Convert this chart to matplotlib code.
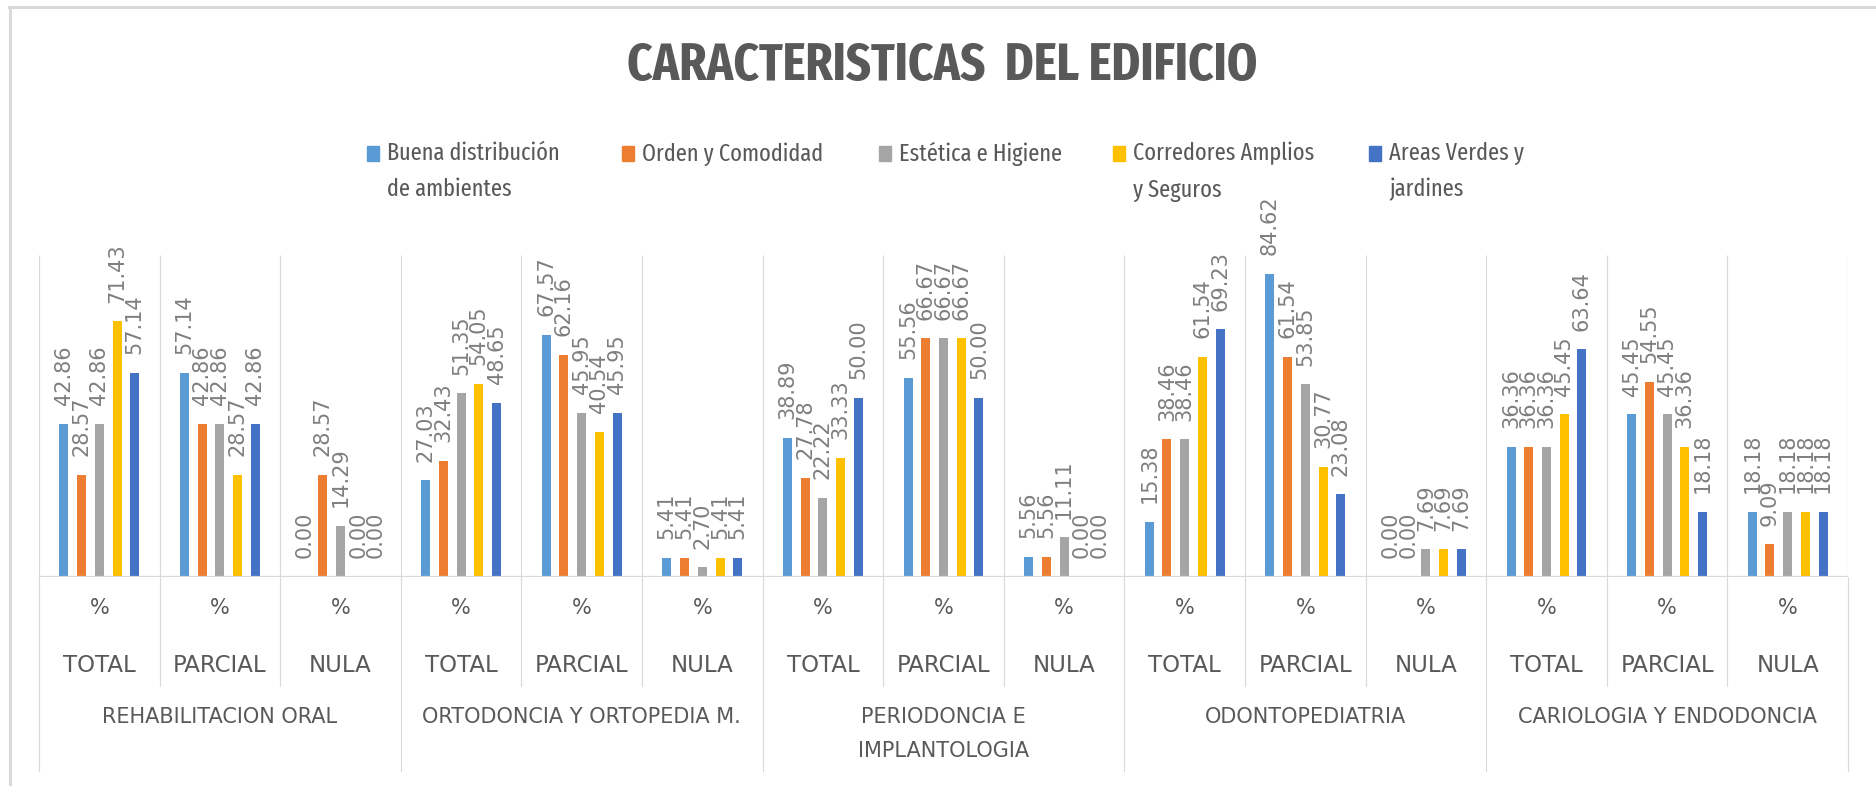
import numpy as np
import matplotlib
matplotlib.use("Agg")
import matplotlib.pyplot as plt
from matplotlib import transforms
from matplotlib.patches import Rectangle
from matplotlib.lines import Line2D

titulo = "CARACTERISTICAS  DEL EDIFICIO"
departamentos = ["REHABILITACION ORAL", "ORTODONCIA Y ORTOPEDIA M.",
                 "PERIODONCIA E\nIMPLANTOLOGIA", "ODONTOPEDIATRIA",
                 "CARIOLOGIA Y ENDODONCIA"]
niveles = ["TOTAL", "PARCIAL", "NULA"]
unidad = "%"
series = ["Buena distribución\nde ambientes", "Orden y Comodidad", "Estética e Higiene",
          "Corredores Amplios\ny Seguros", "Areas Verdes y\njardines"]

# orden: por departamento -> TOTAL, PARCIAL, NULA
buena_distribucion = [42.86, 57.14, 0.00, 27.03, 67.57, 5.41, 38.89, 55.56, 5.56,
                      15.38, 84.62, 0.00, 36.36, 45.45, 18.18]
orden_comodidad = [28.57, 42.86, 28.57, 32.43, 62.16, 5.41, 27.78, 66.67, 5.56,
                   38.46, 61.54, 0.00, 36.36, 54.55, 9.09]
estetica_higiene = [42.86, 42.86, 14.29, 51.35, 45.95, 2.70, 22.22, 66.67, 11.11,
                    38.46, 53.85, 7.69, 36.36, 45.45, 18.18]
corredores_amplios = [71.43, 28.57, 0.00, 54.05, 40.54, 5.41, 33.33, 66.67, 0.00,
                      61.54, 30.77, 7.69, 45.45, 36.36, 18.18]
areas_verdes = [57.14, 42.86, 0.00, 48.65, 45.95, 5.41, 50.00, 50.00, 0.00,
                69.23, 23.08, 7.69, 63.64, 18.18, 18.18]

valores = [buena_distribucion, orden_comodidad, estetica_higiene, corredores_amplios, areas_verdes]
colores = ["#5B9BD5", "#ED7D31", "#A5A5A5", "#FFC000", "#4472C4"]

W, H = 1876, 786
gris_texto = "#595959"
gris_linea = "#D9D9D9"
condensada = ["Fira Sans Extra Condensed", "DejaVu Sans"]


def fx(px):
    return px / W


def fy(py):
    return 1 - py / H


fig = plt.figure(figsize=(W / 100, H / 100), dpi=100)
ax = fig.add_axes([fx(39), fy(577), fx(1848) - fx(39), fy(255) - fy(577)])
ax.patch.set_alpha(0)

x = np.arange(len(buena_distribucion))
ancho = 0.075
paso = 0.147
for i, (vals, c) in enumerate(zip(valores, colores)):
    pos = x + (i - 2) * paso
    ax.bar(pos, vals, ancho, color=c, zorder=2)
    for p, v in zip(pos, vals):
        ax.annotate(f"{v:.2f}", (p, v), xytext=(0, 13.5), textcoords="offset points",
                    rotation=90, ha="center", va="bottom", fontsize=15, color="#7F7F7F")

ax.set_xlim(-0.5, len(x) - 0.5)
ax.set_ylim(0, 90)
ax.set_xticks([])
ax.set_yticks([])
for s in ax.spines.values():
    s.set_visible(False)

bordes = np.arange(len(x) + 1) - 0.5
ax.vlines(bordes, 0, 90, color=gris_linea, lw=0.8, zorder=1)
ax.axhline(0, color=gris_linea, lw=1.6, zorder=3)

# eje de categorias en tres niveles
trans = transforms.blended_transform_factory(ax.transData, fig.transFigure)
for k, xb in enumerate(bordes):
    fin = 771 if k % 3 == 0 else 686
    ax.plot([xb, xb], [fy(577), fy(fin)], color=gris_linea, lw=0.8,
            transform=trans, clip_on=False)

for g in x:
    ax.text(g, fy(608), unidad, ha="center", va="center", fontsize=15,
            color=gris_texto, transform=trans)
    ax.text(g, fy(666), niveles[g % 3], ha="center", va="center", fontsize=16.5,
            color=gris_texto, transform=trans)

for d, nombre in enumerate(departamentos):
    ax.text(3 * d + 1, fy(707), nombre, ha="center", va="top", fontsize=15,
            color=gris_texto, linespacing=1.9, transform=trans)

# titulo y leyenda
fig.text(fx(942), fy(66), titulo, ha="center", va="center", fontsize=38,
         fontweight="bold", color=gris_texto, family=condensada)

x_leyenda = [367, 622, 879, 1113, 1369]
for x0, nombre, c in zip(x_leyenda, series, colores):
    fig.add_artist(Rectangle((fx(x0), fy(161)), 12 / W, 15 / H,
                             transform=fig.transFigure, color=c))
    fig.text(fx(x0 + 20), fy(142), nombre, ha="left", va="top", fontsize=17.5,
             color=gris_texto, linespacing=1.7, family=condensada)

# marco del grafico
fig.add_artist(Line2D([fx(9.5), fx(9.5)], [0, fy(6.5)], color=gris_linea, lw=2.2))
fig.add_artist(Line2D([fx(8.5), 1], [fy(6.5), fy(6.5)], color=gris_linea, lw=2.2))

fig.savefig("out.png", dpi=100)
